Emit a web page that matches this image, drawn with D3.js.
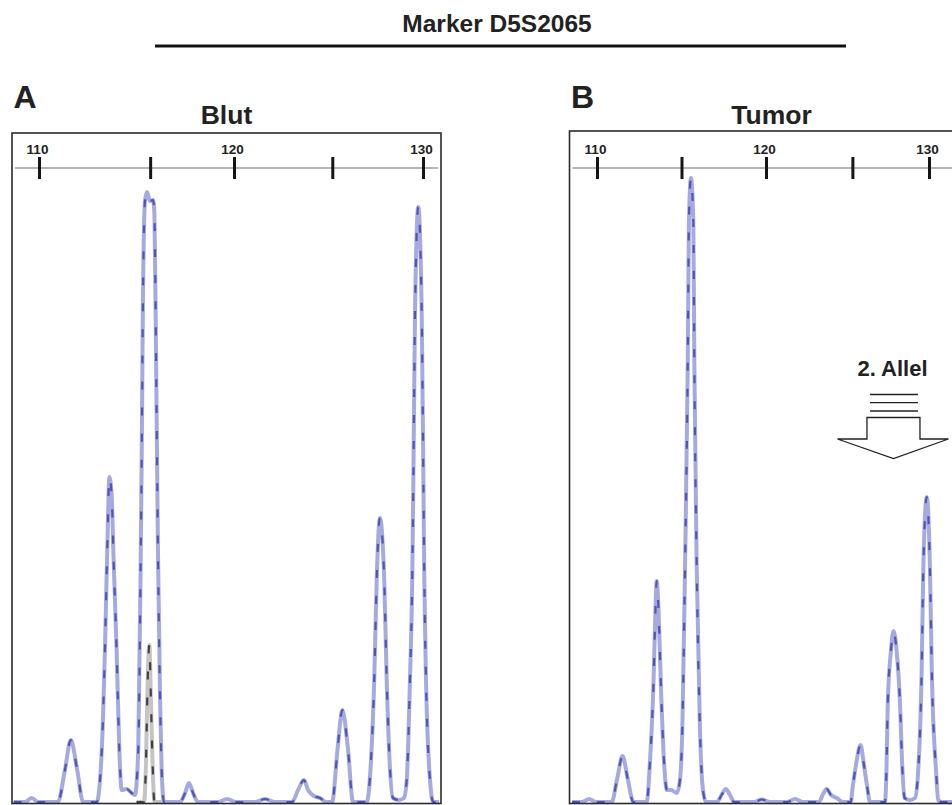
<!DOCTYPE html>
<html>
<head>
<meta charset="utf-8">
<script src="https://cdn.jsdelivr.net/npm/d3@7"></script>
<style>
  html, body { margin: 0; padding: 0; background: #fff; }
  svg { display: block; font-family: "Liberation Sans", Arial, sans-serif; }
</style>
</head>
<body>
<svg id="chart" width="952" height="805"></svg>
<script>
// Fragment sizes (bp) on the size axis of each panel
const sizeTicksBlood = [110, 115.7, 120, 125.2, 130];
const sizeTicksTumor = [110, 115.0, 120, 125.3, 130];
const labelledSizes = [110, 120, 130];

// Blood sample (Blut): [fragment size bp, signal]
const bloodTrace = [
  [108.7, 0], [109.28, 0], [109.63, 4], [109.95, 0],
  [110.97, 0], [111.33, 32], [111.63, 62], [111.96, 32], [112.26, 0],
  [112.96, 0], [113.22, 52], [113.38, 152], [113.50, 252], [113.61, 325], [113.73, 305],
  [113.81, 252], [113.98, 152], [114.12, 52], [114.24, 12], [114.50, 13], [114.75, 9], [114.92, 7],
  [115.09, 52], [115.22, 252], [115.27, 352], [115.33, 502], [115.44, 602], [115.54, 610],
  [115.69, 601], [115.85, 602], [115.92, 587], [116.00, 452], [116.10, 252], [116.21, 102],
  [116.29, 32], [116.41, 0],
  [117.23, 0], [117.49, 9], [117.69, 19], [117.90, 9], [118.15, 0],
  [119.18, 0], [119.64, 3], [120.11, 0],
  [121.11, 0], [121.64, 3], [122.17, 0],
  [123.07, 0], [123.39, 12], [123.70, 22], [123.92, 12], [124.23, 6], [124.55, 4], [124.87, 0],
  [125.19, 0], [125.49, 55], [125.73, 92], [126.02, 55], [126.30, 0],
  [127.02, 0], [127.25, 42], [127.42, 122], [127.55, 222], [127.72, 284], [127.95, 222],
  [128.08, 122], [128.23, 42], [128.41, 4], [128.73, 2], [128.99, 4],
  [129.14, 22], [129.31, 122], [129.43, 222], [129.49, 322], [129.58, 492], [129.75, 595],
  [129.93, 492], [130.02, 322], [130.07, 222], [130.16, 122], [130.37, 22], [130.54, 0],
  [130.85, 0]
];

// Second dye channel in the blood sample (size-standard peak)
const bloodOtherDye = [
  [115.0, 0], [115.38, 0], [115.49, 42], [115.55, 102], [115.66, 157],
  [115.74, 102], [115.82, 42], [115.92, 0], [116.3, 0]
];

// Tumour sample (Tumor): [fragment size bp, signal]
const tumorTrace = [
  [108.52, 0], [109.11, 0], [109.53, 3], [109.94, 0],
  [110.87, 0], [111.18, 22], [111.51, 46], [111.83, 22], [112.15, 0],
  [112.94, 0], [113.14, 42], [113.33, 112], [113.46, 192], [113.53, 221], [113.64, 192],
  [113.79, 112], [113.96, 42], [114.14, 12], [114.38, 12], [114.73, 9],
  [114.91, 22], [115.05, 74], [115.21, 236], [115.37, 439], [115.44, 581], [115.56, 624],
  [115.70, 581], [115.76, 439], [115.90, 236], [116.09, 74], [116.27, 12], [116.45, 0],
  [117.10, 0], [117.37, 7], [117.62, 13], [117.87, 7], [118.11, 0],
  [119.29, 0], [119.76, 2.5], [120.25, 0],
  [121.29, 0], [121.78, 3], [122.27, 0],
  [123.25, 0], [123.50, 8], [123.72, 13], [123.99, 7], [124.34, 4], [124.72, 0],
  [125.20, 0], [125.32, 15], [125.52, 37], [125.80, 57], [126.01, 37], [126.21, 15], [126.38, 0],
  [127.30, 0], [127.39, 32], [127.47, 99], [127.67, 152], [127.82, 171], [128.01, 152],
  [128.22, 99], [128.37, 32], [128.50, 4], [128.83, 2], [129.14, 4],
  [129.34, 32], [129.55, 132], [129.65, 232], [129.86, 305], [130.06, 232], [130.17, 132],
  [130.43, 32], [130.57, 2], [130.74, 0], [131.90, 0]
];

const markerName = "Marker D5S2065";
const panelTitles = ["Blut", "Tumor"];
const panelLetters = ["A", "B"];
const secondAlleleLabel = "2. Allel";
const secondAlleleSize = 127.82;

const svg = d3.select("#chart");
const FONT = '"Liberation Sans", Arial, sans-serif';

// Heading and rule across both panels
svg.append("text")
  .attr("x", 497).attr("y", 32)
  .attr("text-anchor", "middle")
  .attr("font-size", 24.5).attr("font-weight", "bold").attr("fill", "#222")
  .text(markerName);
svg.append("line")
  .attr("x1", 155).attr("x2", 846).attr("y1", 46).attr("y2", 46)
  .attr("stroke", "#111").attr("stroke-width", 3);

const panels = [
  {
    id: "blood", letter: panelLetters[0], title: panelTitles[0],
    left: 12, right: 441, top: 133, bottom: 803.5, titleX: 226.5,
    x: d3.scaleLinear().domain([110, 120, 130]).range([39, 234, 423]),
    ticks: sizeTicksBlood,
    traces: [
      { data: bloodTrace, light: "#a7aadf", dark: "#3c46b4" },
      { data: bloodOtherDye, light: "#c4c4c4", dark: "#2a2a2a" }
    ]
  },
  {
    id: "tumor", letter: panelLetters[1], title: panelTitles[1],
    left: 569.5, right: 1010, top: 131, bottom: 803.5, titleX: 771.5,
    x: d3.scaleLinear().domain([110, 120, 130]).range([597, 766, 929]),
    ticks: sizeTicksTumor,
    traces: [
      { data: tumorTrace, light: "#a7aadf", dark: "#3c46b4" }
    ]
  }
];

const axisY = 168;
const y = d3.scaleLinear().domain([0, 650]).range([802, 152]);

panels.forEach(p => {
  const g = svg.append("g");

  g.append("text")
    .attr("x", p.left + 1.5).attr("y", 107.5)
    .attr("font-size", 32).attr("font-weight", "bold").attr("fill", "#222")
    .text(p.letter);
  g.append("text")
    .attr("x", p.titleX).attr("y", 123.5)
    .attr("text-anchor", "middle")
    .attr("font-size", 26.5).attr("font-weight", "bold").attr("fill", "#222")
    .text(p.title);

  // clip region for the traces
  const clipId = "clip-" + p.id;
  svg.append("defs").append("clipPath").attr("id", clipId)
    .append("rect")
    .attr("x", p.left + 1).attr("y", p.top + 1)
    .attr("width", p.right - p.left - 2).attr("height", p.bottom - p.top);

  // size axis line
  g.append("line")
    .attr("x1", p.left + 3).attr("x2", p.right - 3)
    .attr("y1", axisY).attr("y2", axisY)
    .attr("stroke", "#9c9c9c").attr("stroke-width", 1.6);

  const axis = d3.axisTop(p.x)
    .tickValues(p.ticks)
    .tickSize(11)
    .tickPadding(3.5)
    .tickFormat(d => labelledSizes.includes(d) ? d3.format("d")(d) : "");
  const ag = g.append("g").attr("transform", `translate(0,${axisY})`).call(axis);
  ag.select(".domain").remove();
  ag.selectAll(".tick line")
    .attr("y1", 11).attr("y2", -11)
    .attr("stroke", "#151515").attr("stroke-width", 3);
  ag.selectAll(".tick text")
    .attr("font-family", FONT)
    .attr("font-size", 13.5).attr("font-weight", "bold").attr("fill", "#222")
    .attr("dx", -2);

  const line = d3.line()
    .x(d => p.x(d[0]))
    .y(d => y(d[1]))
    .curve(d3.curveMonotoneX);

  const tg = g.append("g").attr("clip-path", `url(#${clipId})`);
  p.traces.forEach(t => {
    tg.append("path")
      .attr("d", line(t.data))
      .attr("fill", "none")
      .attr("stroke", t.light).attr("stroke-width", 4)
      .attr("stroke-linejoin", "round");
    tg.append("path")
      .attr("d", line(t.data))
      .attr("fill", "none")
      .attr("stroke", t.dark).attr("stroke-width", 2.2)
      .attr("stroke-dasharray", "8,18")
      .attr("opacity", 0.85);
  });

  // panel frame
  g.append("rect")
    .attr("x", p.left).attr("y", p.top)
    .attr("width", p.right - p.left).attr("height", p.bottom - p.top)
    .attr("fill", "none").attr("stroke", "#2b2b2b").attr("stroke-width", 1.6);
});

// Annotation pointing at the second allele in the tumour sample
const tumor = panels[1];
const cx = tumor.x(secondAlleleSize);
const ann = svg.append("g");
ann.append("text")
  .attr("x", cx - 1).attr("y", 376)
  .attr("text-anchor", "middle")
  .attr("font-size", 22).attr("font-weight", "bold").attr("fill", "#222")
  .text(secondAlleleLabel);
[394.5, 402.7, 411].forEach(yy => {
  ann.append("line")
    .attr("x1", cx - 23.5).attr("x2", cx + 24.5)
    .attr("y1", yy).attr("y2", yy)
    .attr("stroke", "#222").attr("stroke-width", 1.3);
});
ann.append("path")
  .attr("d", d3.line()([
    [cx - 26.5, 417.5], [cx + 26.5, 417.5], [cx + 26.5, 439],
    [cx + 55, 439], [cx, 458.5], [cx - 56, 439], [cx - 26.5, 439]
  ]) + "Z")
  .attr("fill", "#fff").attr("stroke", "#222").attr("stroke-width", 1.3)
  .attr("stroke-linejoin", "miter");
</script>
</body>
</html>
